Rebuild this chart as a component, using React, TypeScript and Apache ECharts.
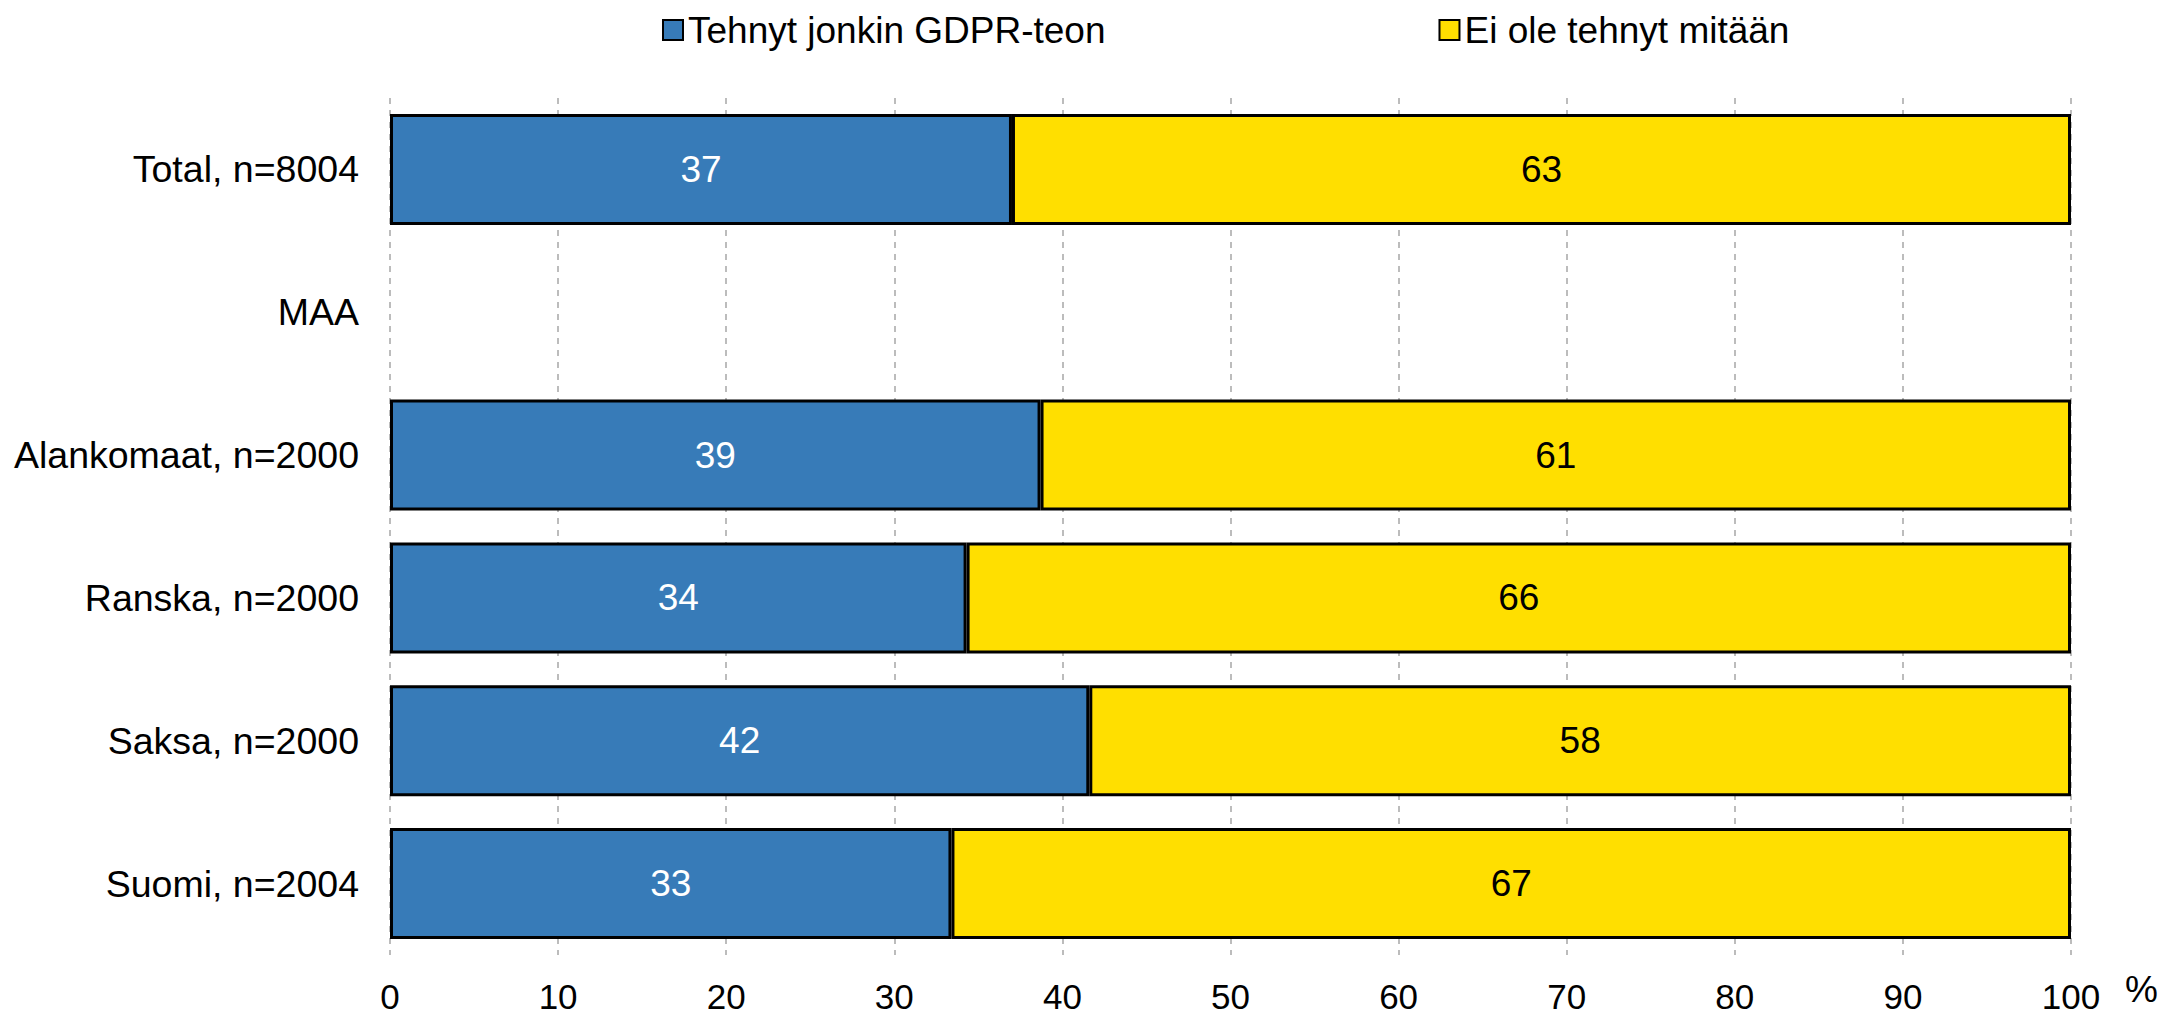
import React, { useEffect, useRef } from "react";
import * as echarts from "echarts";

const categories = [
  "Total, n=8004",
  "MAA",
  "Alankomaat, n=2000",
  "Ranska, n=2000",
  "Saksa, n=2000",
  "Suomi, n=2004",
];
const seriesNames = ["Tehnyt jonkin GDPR-teon", "Ei ole tehnyt mitään"];
const doneValues: (number | null)[] = [37.0, null, 38.7, 34.3, 41.6, 33.4];
const notDoneValues: (number | null)[] = [63.0, null, 61.3, 65.7, 58.4, 66.6];
const colors = ["#377BB8", "#FFDF00"];
const labelColors = ["#FFFFFF", "#000000"];

const FONT = "'Liberation Sans', Arial, sans-serif";

export default function App() {
  const ref = useRef<HTMLDivElement>(null);
  useEffect(() => {
    if (!ref.current) return;
    const chart = echarts.init(ref.current, null, { renderer: "svg" });
    const dataSets = [doneValues, notDoneValues];
    chart.setOption({
      animation: false,
      textStyle: { fontFamily: FONT },
      legend: {
        left: 657,
        top: 5,
        itemWidth: 20,
        itemHeight: 20,
        itemGap: 333,
        icon: "rect",
        textStyle: { fontSize: 37, color: "#000", fontFamily: FONT, lineHeight: 40 },
        data: seriesNames,
      },
      grid: { left: 390, right: 111, top: 98, bottom: 61, containLabel: false },
      xAxis: {
        type: "value",
        min: 0,
        max: 100,
        interval: 10,
        axisLine: { show: false },
        axisTick: { show: false },
        axisLabel: { fontSize: 35, color: "#000", margin: 24, lineHeight: 35, verticalAlign: "top", fontFamily: FONT },
        splitLine: { show: true, lineStyle: { type: [6, 6], color: "#A6A6A6", width: 1.5 } },
        name: "%",
        nameLocation: "end",
        nameGap: 54,
        nameTextStyle: { fontSize: 37, color: "#000", fontFamily: FONT, verticalAlign: "top", padding: [16, 0, 0, 0] },
      },
      yAxis: {
        type: "category",
        inverse: true,
        data: categories,
        axisLine: { show: false },
        axisTick: { show: false },
        axisLabel: { fontSize: 37.5, color: "#000", margin: 31, fontFamily: FONT },
      },
      series: seriesNames.map((name, i) => ({
        name,
        type: "bar",
        stack: "total",
        barWidth: 111,
        data: dataSets[i],
        itemStyle: { color: colors[i], borderColor: "#000", borderWidth: 3 },
        label: {
          show: true,
          position: "inside",
          fontSize: 37,
          color: labelColors[i],
          fontFamily: FONT,
          formatter: (p: any) => (p.value == null ? "" : String(Math.round(p.value))),
        },
      })),
    });
    return () => chart.dispose();
  }, []);
  return (
    <div
      ref={ref}
      style={{ position: "fixed", left: 0, top: 0, width: 2182, height: 1016, background: "#fff" }}
    />
  );
}
